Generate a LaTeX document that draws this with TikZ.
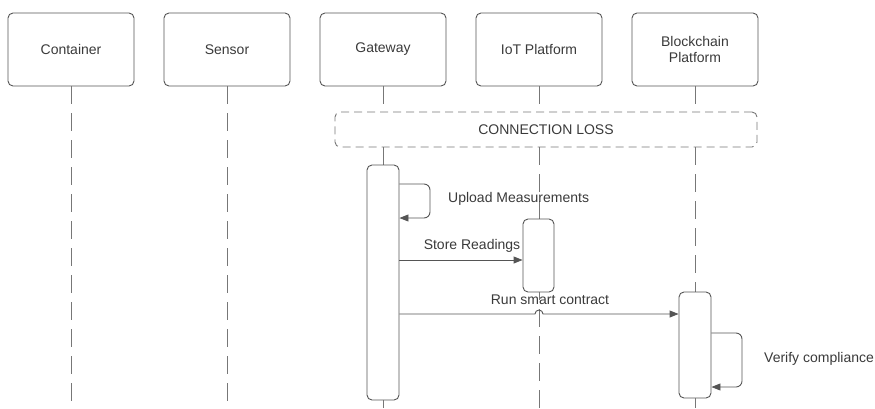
\documentclass[tikz,border=0pt]{standalone}
\usepackage{fontspec}
\setmainfont{Liberation Sans}
\usetikzlibrary{arrows.meta}
\definecolor{ln}{HTML}{555555}
\definecolor{tx}{HTML}{3A3A3A}
\begin{document}
\begin{tikzpicture}[x=1pt,y=-1pt,
  head/.style={draw=ln, line width=0.9pt, rounded corners=5pt, minimum width=126pt, minimum height=73pt, text=tx, font=\fontsize{14}{16.5}\selectfont, align=center, inner sep=0pt},
  actbar/.style={draw=ln, line width=0.9pt, rounded corners=5pt, fill=white},
  life/.style={draw=ln!80, line width=0.9pt, dash pattern=on 18pt off 9pt},
  msg/.style={draw=ln, line width=0.9pt, -{Triangle[length=9pt,width=7pt]}},
  lbl/.style={text=tx, font=\fontsize{14}{16}\selectfont, inner sep=0pt}]
\useasboundingbox (0,0) rectangle (875,408);
% headers
\node[head] (c) at (71,49.5) {Container};
\node[head] (s) at (227,49.5) {Sensor};
\node[head] (g) at (383,49.5) {Gateway};
\node[head] (i) at (539,49.5) {IoT Platform};
\node[head] (b) at (695,49.5) {Blockchain\\Platform};
% lifeline ends
\coordinate (cE) at (71,408);
\coordinate (sE) at (227,408);
\coordinate (gE) at (383,408);
\coordinate (iE) at (539,408);
\coordinate (bE) at (695,408);
% connection loss box
\node[draw=ln!80, line width=0.9pt, dash pattern=on 8pt off 5pt, rounded corners=5pt, minimum width=422pt, minimum height=35pt, inner sep=0pt, text=tx, font=\fontsize{14}{16}\selectfont] (cl) at (546,129.5) {CONNECTION LOSS};
% lifelines
\draw[life] (c.south) -- (cE);
\draw[life] (s.south) -- (sE);
\draw[life] (g.south) -- (383,112);
\draw[life] (383,147) -- (gE);
\draw[life] (i.south) -- (539,112);
\draw[life] (539,147) -- (iE);
\draw[life] (b.south) -- (695,112);
\draw[life] (695,147) -- (bE);
% activation bars
\node[actbar, minimum width=32pt, minimum height=235pt, inner sep=0pt] (ga) at (383,282.5) {};
\node[actbar, minimum width=31pt, minimum height=73pt, inner sep=0pt] (ia) at (538.5,255.5) {};
\node[actbar, minimum width=32pt, minimum height=106pt, inner sep=0pt] (ba) at (695,345) {};
% self loop gateway
\draw[msg, rounded corners=6pt] (ga.east |- 0,184) -- (430,184) -- (430,218) -- (ga.east |- 0,218);
\node[lbl, anchor=west] (um) at (448,199) {Upload Measurements};
% store readings
\draw[msg] (ga.east |- 0,260) -- (ia.west |- 0,260);
\node[lbl] (sr) at (472,246) {Store Readings};
% run smart contract with hop
\draw[msg] (ga.east |- 0,314) -- (535,314) arc[start angle=180, end angle=0, radius=4pt] -- (ba.west |- 0,314);
\node[lbl] (rs) at (550,300) {Run smart contract};
% self loop blockchain
\draw[msg, rounded corners=6pt] (ba.east |- 0,333) -- (742,333) -- (742,387) -- (ba.east |- 0,387);
\node[lbl, anchor=west] (vc) at (764,359) {Verify compliance};
\end{tikzpicture}
\end{document}
